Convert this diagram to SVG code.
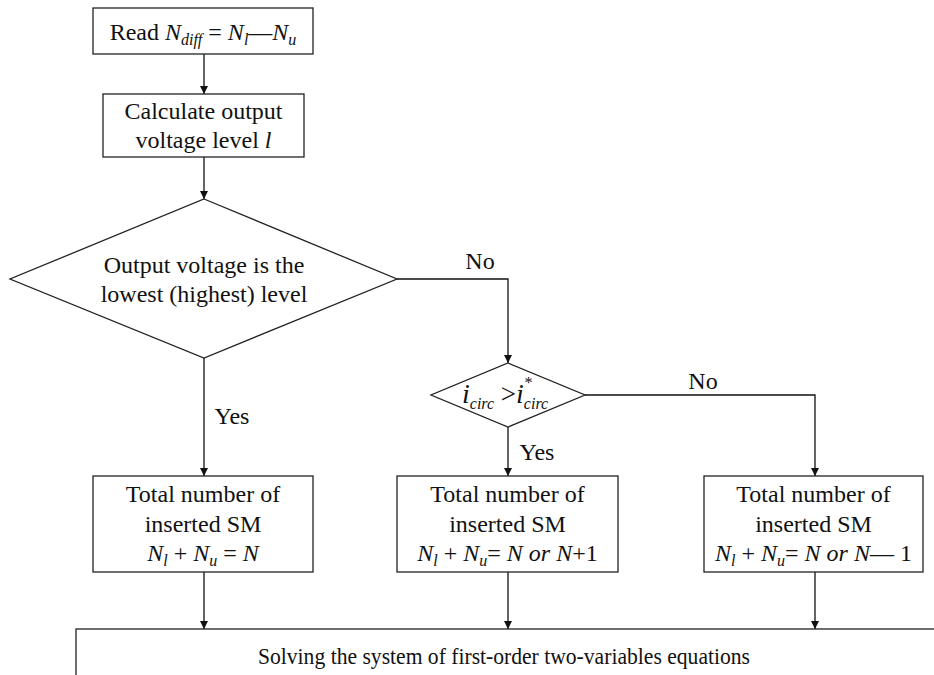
<svg xmlns="http://www.w3.org/2000/svg" width="934" height="675" viewBox="0 0 934 675">
<style>
  .box { fill: #fff; stroke: #222; stroke-width: 1.3; }
  .ln { fill: none; stroke: #111; stroke-width: 1.3; }
  text { font-family: "Liberation Serif", "Times New Roman", serif; font-size: 24px; fill: #111; }
  .c { text-anchor: middle; }
  .i { font-style: italic; }
  .s { font-size: 16px; font-style: italic; }
</style>
<defs>
  <marker id="arr" viewBox="0 0 8 10" refX="8" refY="5" markerWidth="8" markerHeight="10" markerUnits="userSpaceOnUse" orient="auto">
    <path d="M0,1 L8,5 L0,9 Z" fill="#111"/>
  </marker>
</defs>
<rect width="934" height="675" fill="#fff"/>

<g id="connectors">
  <path class="ln" d="M204,54 V94" marker-end="url(#arr)"/>
  <path class="ln" d="M204,157 V199" marker-end="url(#arr)"/>
  <path class="ln" d="M397,279 H508 V363" marker-end="url(#arr)"/>
  <path class="ln" d="M585,395 H815 V476" marker-end="url(#arr)"/>
  <path class="ln" d="M204,358 V476" marker-end="url(#arr)"/>
  <path class="ln" d="M508,427 V476" marker-end="url(#arr)"/>
  <path class="ln" d="M204,572 V629" marker-end="url(#arr)"/>
  <path class="ln" d="M508,572 V629" marker-end="url(#arr)"/>
  <path class="ln" d="M815,572 V629" marker-end="url(#arr)"/>
  <text x="480" y="269" class="c">No</text>
  <text x="703" y="389" class="c">No</text>
  <text x="232" y="424" class="c">Yes</text>
  <text x="537" y="460" class="c">Yes</text>
</g>

<g id="read">
  <rect class="box" x="93" y="8" width="220" height="46"/>
  <text x="203" y="40" class="c">Read <tspan class="i">N</tspan><tspan class="s" dy="5">diff</tspan><tspan dy="-5"> = </tspan><tspan class="i">N</tspan><tspan class="s" dy="5">l</tspan><tspan dy="-5">—</tspan><tspan class="i">N</tspan><tspan class="s" dy="5">u</tspan></text>
</g>

<g id="calc">
  <rect class="box" x="103" y="94" width="201" height="63"/>
  <text x="203.5" y="119" class="c">Calculate output</text>
  <text x="203.5" y="148" class="c">voltage level <tspan class="i">l</tspan></text>
</g>

<g id="decision1">
  <polygon class="box" points="204,199 397,279 204,358 10,279"/>
  <text x="204" y="273" class="c">Output voltage is the</text>
  <text x="204" y="302" class="c">lowest (highest) level</text>
</g>

<g id="decision2">
  <polygon class="box" points="508,363 585,395 508,427 431,395"/>
  <text x="462" y="403"><tspan class="i" font-size="28">i</tspan><tspan class="s" font-size="15" dy="6">circ</tspan><tspan dy="-6" font-size="27"> &gt;</tspan><tspan class="i" font-size="28">i</tspan><tspan class="s" dy="-15">*</tspan><tspan class="s" font-size="15" dx="-8" dy="21">circ</tspan></text>
</g>

<g id="box-left">
  <rect class="box" x="93" y="476" width="220" height="96"/>
  <text x="203" y="502" class="c">Total number of</text>
  <text x="203" y="532" class="c">inserted SM</text>
  <text x="203" y="561" class="c"><tspan class="i">N</tspan><tspan class="s" dy="5">l</tspan><tspan dy="-5"> + </tspan><tspan class="i">N</tspan><tspan class="s" dy="5">u</tspan><tspan dy="-5"> = </tspan><tspan class="i">N</tspan></text>
</g>

<g id="box-mid">
  <rect class="box" x="397" y="476" width="221" height="96"/>
  <text x="507.5" y="502" class="c">Total number of</text>
  <text x="507.5" y="532" class="c">inserted SM</text>
  <text x="507.5" y="561" class="c"><tspan class="i">N</tspan><tspan class="s" dy="5">l</tspan><tspan dy="-5"> + </tspan><tspan class="i">N</tspan><tspan class="s" dy="5">u</tspan><tspan dy="-5">= </tspan><tspan class="i">N or N</tspan><tspan>+1</tspan></text>
</g>

<g id="box-right">
  <rect class="box" x="704" y="476" width="219" height="96"/>
  <text x="813.5" y="502" class="c">Total number of</text>
  <text x="813.5" y="532" class="c">inserted SM</text>
  <text x="813.5" y="561" class="c"><tspan class="i">N</tspan><tspan class="s" dy="5">l</tspan><tspan dy="-5"> + </tspan><tspan class="i">N</tspan><tspan class="s" dy="5">u</tspan><tspan dy="-5">= </tspan><tspan class="i">N or N</tspan><tspan>— 1</tspan></text>
</g>

<g id="solve">
  <rect class="box" x="76" y="629" width="900" height="80"/>
  <text x="258" y="664" textLength="492" lengthAdjust="spacingAndGlyphs">Solving the system of first-order two-variables equations</text>
</g>
</svg>
